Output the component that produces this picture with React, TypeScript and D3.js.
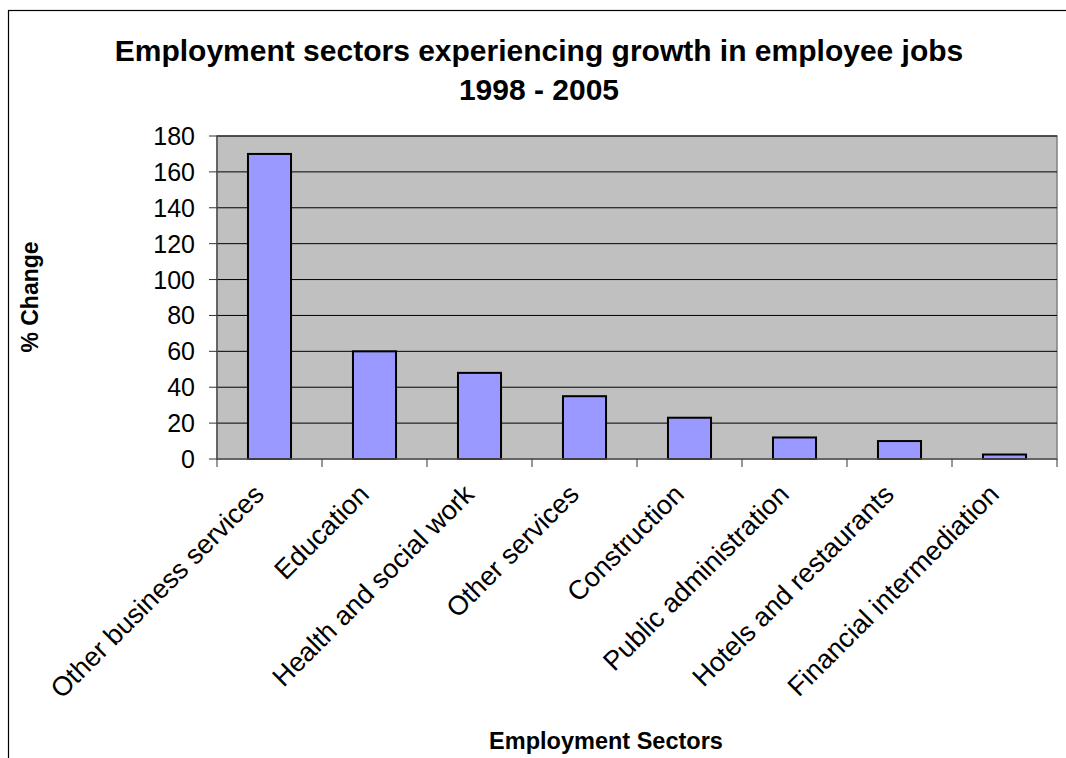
import React from "react";
import * as d3 from "d3";

const categories = [
  "Other business services",
  "Education",
  "Health and social work",
  "Other services",
  "Construction",
  "Public administration",
  "Hotels and restaurants",
  "Financial intermediation",
];
const values = [170, 60, 48, 35, 23, 12, 10, 2.5];
const yTicks = [0, 20, 40, 60, 80, 100, 120, 140, 160, 180];
const titleLines = ["Employment sectors experiencing growth in employee jobs", "1998 - 2005"];
const xTitle = "Employment Sectors";
const yTitle = "% Change";

const W = 1066;
const H = 758;
const plot = { left: 217, top: 136, right: 1057, bottom: 459 };
const font = "'Liberation Sans', Arial, sans-serif";

export default function App() {
  const x = d3
    .scaleBand<string>()
    .domain(categories)
    .range([plot.left, plot.right])
    .paddingInner(0.59)
    .paddingOuter(0.295);
  const y = d3.scaleLinear().domain([0, 180]).range([plot.bottom, plot.top]);
  const step = (plot.right - plot.left) / categories.length;
  const boundaries = d3.range(categories.length + 1).map((i) => plot.left + i * step);

  return (
    <svg
      width={W}
      height={H}
      style={{ position: "absolute", left: 0, top: 0, background: "#fff" }}
      fontFamily={font}
    >
      <rect x={8.5} y={10.5} width={W + 20} height={H + 20} fill="#fff" stroke="#000" strokeWidth={1.2} />
      {/* title */}
      <text textAnchor="middle" fontWeight="bold" fontSize={30} fill="#000">
        <tspan x={539} y={61}>{titleLines[0]}</tspan>
        <tspan x={539} y={100}>{titleLines[1]}</tspan>
      </text>
      {/* plot area */}
      <rect
        x={plot.left}
        y={plot.top}
        width={plot.right - plot.left}
        height={plot.bottom - plot.top}
        fill="#C0C0C0"
        stroke="#808080"
        strokeWidth={1.5}
      />
      {yTicks.slice(1).map((t) => (
        <line key={"g" + t} x1={plot.left} x2={plot.right} y1={y(t)} y2={y(t)} stroke="#000" strokeWidth={1} />
      ))}
      {/* bars */}
      {categories.map((c, i) => (
        <rect
          key={c}
          x={x(c)}
          y={y(values[i])}
          width={x.bandwidth()}
          height={y(0) - y(values[i])}
          fill="#9999FF"
          stroke="#000"
          strokeWidth={2}
        />
      ))}
      {/* axes */}
      <line x1={plot.left} x2={plot.left} y1={plot.top} y2={plot.bottom} stroke="#555" strokeWidth={1.5} />
      <line x1={plot.left} x2={plot.right} y1={plot.bottom} y2={plot.bottom} stroke="#555" strokeWidth={1.5} />
      {yTicks.map((t) => (
        <g key={"t" + t}>
          <line x1={plot.left - 8} x2={plot.left} y1={y(t)} y2={y(t)} stroke="#333" strokeWidth={1} />
          <text x={plot.left - 22} y={y(t) + 9} textAnchor="end" fontSize={25} fill="#000">
            {t}
          </text>
        </g>
      ))}
      {boundaries.map((bx, i) => (
        <line key={"b" + i} x1={bx} x2={bx} y1={plot.bottom} y2={plot.bottom + 8} stroke="#333" strokeWidth={1} />
      ))}
      {categories.map((c) => {
        const cx = (x(c) as number) + x.bandwidth() / 2 - 4;
        const cy = plot.bottom + 37;
        return (
          <text
            key={"l" + c}
            x={cx}
            y={cy}
            textAnchor="end"
            fontSize={27}
            fill="#000"
            transform={`rotate(-45 ${cx} ${cy})`}
          >
            {c}
          </text>
        );
      })}
      <text x={606} y={749} textAnchor="middle" fontWeight="bold" fontSize={23.5} fill="#000">
        {xTitle}
      </text>
      <text
        transform={`translate(38 ${297}) rotate(-90)`}
        textAnchor="middle"
        fontWeight="bold"
        fontSize={23}
        fill="#000"
      >
        {yTitle}
      </text>
    </svg>
  );
}
